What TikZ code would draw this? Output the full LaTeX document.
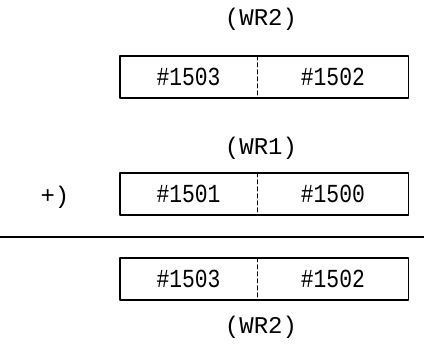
\documentclass[tikz,border=0pt]{standalone}
\usepackage{fontspec}
\newfontfamily\labelfont{Liberation Mono}
\newfontfamily\cellfont[FakeStretch=0.82]{Liberation Mono}
\usetikzlibrary{positioning}
\tikzset{
  cell height/.store in=\CellHt,
  hi width/.store in=\HiWd,
  lo width/.store in=\LoWd,
  cell height=42,
  hi width=137,
  lo width=151,
  cell/.style={minimum height=\CellHt pt, inner sep=0pt, font=\cellfont\fontsize{26}{26}\selectfont},
  wrlabel/.style={inner sep=0pt, font=\labelfont\fontsize{24}{24}\selectfont},
  frame/.style={line width=1.5pt},
  divider/.style={line width=1.1pt, dash pattern=on 4pt off 3pt}
}

\begin{document}
\begin{tikzpicture}[x=1pt, y=-1pt, line cap=round, line join=round]

  \useasboundingbox (0,0) rectangle (424,345);

  % Register WR2 (first operand)
  \node[wrlabel] (wrtop) at (261,19) {(WR2)};
  \node[cell, minimum width=\HiWd pt] (ahi) at (188.5,77) {\#1503};
  \node[cell, minimum width=\LoWd pt, right=0pt of ahi] (alo) {\#1502};
  \draw[frame] (ahi.north west) rectangle (alo.south east);
  \draw[divider] (ahi.north east) -- (ahi.south east);

  % Register WR1 (second operand)
  \node[wrlabel] (wrmid) at (261,148) {(WR1)};
  \node[cell, minimum width=\HiWd pt] (bhi) at (188.5,194) {\#1501};
  \node[cell, minimum width=\LoWd pt, right=0pt of bhi] (blo) {\#1500};
  \draw[frame] (bhi.north west) rectangle (blo.south east);
  \draw[divider] (bhi.north east) -- (bhi.south east);
  \node[wrlabel] (plus) at (55,197) {+)};

  % Sum rule
  \coordinate (ruleL) at (0,237);
  \coordinate (ruleR) at (424,237);
  \draw[frame] (ruleL) -- (ruleR);

  % Result back in WR2
  \node[cell, minimum width=\HiWd pt] (chi) at (188.5,279) {\#1503};
  \node[cell, minimum width=\LoWd pt, right=0pt of chi] (clo) {\#1502};
  \draw[frame] (chi.north west) rectangle (clo.south east);
  \draw[divider] (chi.north east) -- (chi.south east);
  \node[wrlabel] (wrbot) at (261,327) {(WR2)};

\end{tikzpicture}
\end{document}
